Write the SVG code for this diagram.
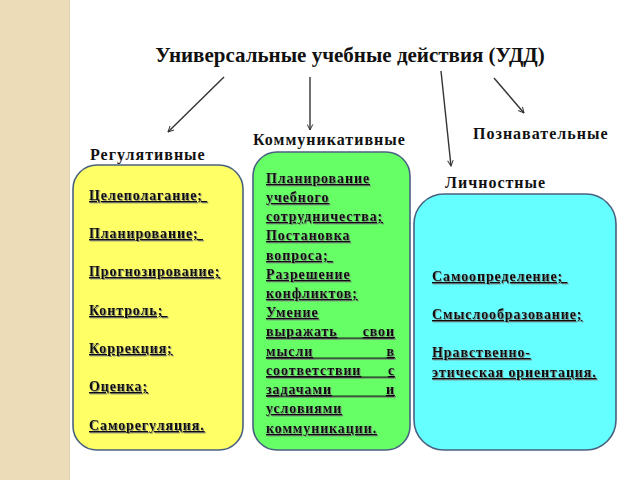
<svg xmlns="http://www.w3.org/2000/svg" width="640" height="480" viewBox="0 0 640 480" font-family="'Liberation Serif', 'Times New Roman', serif">
<defs>
<style>
text{font-family:'Liberation Serif','Times New Roman',serif;fill:#111;}
.h{font-size:16px;font-weight:bold;letter-spacing:1px;}
.b{font-size:14px;font-weight:bold;letter-spacing:0.9px;text-decoration:underline;filter:url(#sh);}
.u{fill:#111;filter:url(#sh);}
.box{stroke:#4a6282;stroke-width:1.6;}
.c{stroke:#333;stroke-width:1.4;fill:none;marker-end:url(#ah);}
</style>
<marker id="ah" viewBox="0 0 10 10" refX="9" refY="5" markerWidth="7" markerHeight="7" orient="auto" markerUnits="userSpaceOnUse">
<path d="M1,1 L9,5 L1,9" fill="none" stroke="#333" stroke-width="1.4"/>
</marker>
<filter id="sh" x="-5%" y="-200%" width="110%" height="500%">
<feDropShadow dx="1" dy="1" stdDeviation="0.6" flood-color="#777" flood-opacity="0.8"/>
</filter>
</defs>
<rect x="0" y="0" width="640" height="480" fill="#fff"/>
<rect x="0" y="0" width="69" height="480" fill="#eddcb8"/>
<line x1="69.5" y1="0" x2="69.5" y2="480" stroke="#e0d2b4" stroke-width="1"/>

<text id="title" x="350" y="62" text-anchor="middle" font-size="21" font-weight="bold">Универсальные учебные действия (УДД)</text>

<g id="connectors">
<line class="c" x1="224" y1="77" x2="168" y2="132"/>
<line class="c" x1="310" y1="77" x2="310" y2="130"/>
<line class="c" x1="441" y1="71" x2="451" y2="166"/>
<line class="c" x1="494" y1="78" x2="524" y2="113"/>
</g>

<g id="reg">
<text class="h" x="90" y="160">Регулятивные</text>
<rect class="box" x="73" y="165" width="170" height="285" rx="24" fill="#ffff66"/>
<text class="b" x="89" y="200">Целеполагание;&#160;</text>
<text class="b" x="89" y="238">Планирование;&#160;</text>
<text class="b" x="89" y="276">Прогнозирование;</text>
<text class="b" x="89" y="315">Контроль;&#160;</text>
<text class="b" x="89" y="353">Коррекция;</text>
<text class="b" x="89" y="391">Оценка;</text>
<text class="b" x="89" y="430">Саморегуляция.</text>
</g>

<g id="kom">
<text class="h" x="253" y="145">Коммуникативные</text>
<rect class="box" x="253" y="152" width="157" height="298" rx="24" fill="#66ff66"/>
<text class="b" x="266" y="183">Планирование</text>
<text class="b" x="266" y="202">учебного</text>
<text class="b" x="266" y="221">сотрудничества;</text>
<text class="b" x="266" y="240">Постановка</text>
<text class="b" x="266" y="260">вопроса;&#160;</text>
<text class="b" x="266" y="279">Разрешение</text>
<text class="b" x="266" y="298">конфликтов;</text>
<text class="b" x="266" y="317">Умение</text>
<text class="b" x="266" y="336">выражать</text><text class="b" x="395" y="336" text-anchor="end">свои</text>
<text class="b" x="266" y="356">мысли</text><text class="b" x="395" y="356" text-anchor="end">в</text>
<text class="b" x="266" y="375">соответствии</text><text class="b" x="395" y="375" text-anchor="end">с</text>
<text class="b" x="266" y="394">задачами</text><text class="b" x="395" y="394" text-anchor="end">и</text>
<rect class="u" x="266" y="337.6" width="128" height="1.1"/>
<rect class="u" x="266" y="357.6" width="128" height="1.1"/>
<rect class="u" x="266" y="376.6" width="128" height="1.1"/>
<rect class="u" x="266" y="395.6" width="128" height="1.1"/>
<text class="b" x="266" y="413">условиями</text>
<text class="b" x="266" y="433">коммуникации.</text>
</g>

<g id="poz">
<text class="h" x="473" y="139">Познавательные</text>
</g>

<g id="lich">
<text class="h" x="445" y="188">Личностные</text>
<rect class="box" x="414" y="194" width="202" height="256" rx="30" fill="#66ffff"/>
<text class="b" x="432" y="281">Самоопределение;&#160;</text>
<text class="b" x="432" y="319">Смыслообразование;</text>
<text class="b" x="432" y="357">Нравственно-</text>
<text class="b" x="432" y="377">этическая ориентация.</text>
</g>
</svg>
